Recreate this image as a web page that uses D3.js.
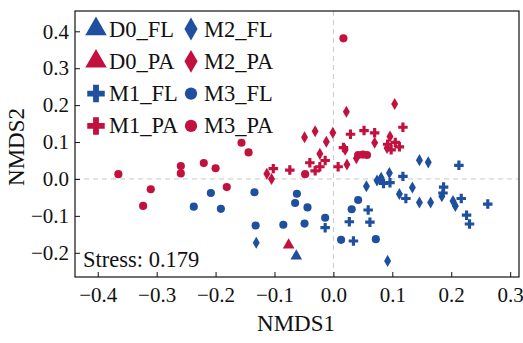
<!DOCTYPE html>
<html>
<head>
<meta charset="utf-8">
<script src="https://cdn.jsdelivr.net/npm/d3@7"></script>
<style>
  body { margin: 0; background: #fff; }
  svg text { font-family: "Liberation Serif", "Times New Roman", Times, serif; fill: #111; }
</style>
</head>
<body>
<div id="chart"></div>
<script>
// NMDS ordination scores, [NMDS1, NMDS2] per sample
var D0_FL = [[-0.063, -0.209]];
var D0_PA = [[-0.076, -0.179]];
var M1_FL = [[-0.014, -0.132], [0.027, -0.116], [0.062, -0.117], [0.034, -0.168], [0.059, -0.084],
             [0.085, -0.012], [0.096, -0.010], [0.118, 0.007], [0.123, -0.053], [0.187, -0.022],
             [0.186, -0.038], [0.213, 0.037], [0.217, -0.053], [0.226, -0.098], [0.231, -0.122],
             [0.262, -0.068]];
var M1_PA = [[0.029, 0.121], [0.052, 0.131], [0.070, 0.125], [0.118, 0.140], [0.017, 0.085],
             [0.092, 0.094], [0.105, 0.099], [0.098, 0.079], [-0.040, 0.044], [-0.014, 0.050],
             [-0.023, 0.033], [-0.031, 0.022], [0.008, 0.033], [-0.074, 0.024], [-0.102, 0.028],
             [0.112, 0.087]];
var M2_FL = [[-0.131, -0.173], [0.092, -0.222], [0.056, -0.020], [0.074, -0.004], [0.081, 0.003],
             [0.095, 0.016], [0.112, -0.041], [0.134, -0.023], [0.146, 0.051], [0.161, 0.045],
             [0.146, -0.064], [0.165, -0.064], [0.184, -0.047], [0.207, -0.073], [0.203, -0.060]];
var M2_PA = [[0.022, 0.182], [0.104, 0.203], [-0.049, 0.113], [-0.031, 0.129], [-0.001, 0.125],
             [-0.012, 0.101], [0.020, 0.079], [0.070, 0.098], [0.096, 0.115], [0.023, 0.039],
             [0.039, 0.056], [-0.113, 0.014], [-0.105, 0.000], [-0.023, 0.068], [0.091, 0.084]];
var M3_FL = [[-0.237, -0.075], [-0.208, -0.038], [-0.191, -0.081], [-0.134, -0.036], [-0.132, -0.126],
             [-0.085, -0.124], [-0.062, -0.040], [-0.065, -0.065], [-0.044, -0.077], [-0.049, -0.121],
             [-0.014, -0.105], [0.013, -0.165], [0.072, -0.163], [0.042, -0.057], [0.031, -0.082]];
var M3_PA = [[0.017, 0.381], [-0.365, 0.013], [-0.310, -0.028], [-0.323, -0.073], [-0.259, 0.035],
             [-0.259, 0.015], [-0.220, 0.043], [-0.200, 0.029], [-0.181, -0.022], [-0.156, 0.098],
             [-0.144, 0.072], [-0.048, 0.013], [0.042, 0.065], [0.050, 0.066], [0.057, 0.065]];

var xTicks = [-0.4, -0.3, -0.2, -0.1, 0.0, 0.1, 0.2, 0.3];
var yTicks = [-0.2, -0.1, 0.0, 0.1, 0.2, 0.3, 0.4];
var stressText = "Stress: 0.179";

var blue = "#1f4f9f", red = "#c3113f";

// draw order: FL below PA
var groups = [
    {name: "D0_FL", data: D0_FL, shape: d3.symbolTriangle, size: 59, lsize: 200, color: blue},
    {name: "M2_FL", data: M2_FL, shape: d3.symbolDiamond, size: 42, lsize: 150, color: blue},
    {name: "D0_PA", data: D0_PA, shape: d3.symbolTriangle, size: 59, lsize: 200, color: red},
    {name: "M2_PA", data: M2_PA, shape: d3.symbolDiamond, size: 42, lsize: 150, color: red},
    {name: "M1_FL", data: M1_FL, shape: d3.symbolCross, size: 50, lsize: 170, color: blue},
    {name: "M3_FL", data: M3_FL, shape: d3.symbolCircle, size: 52, lsize: 118, color: blue},
    {name: "M1_PA", data: M1_PA, shape: d3.symbolCross, size: 50, lsize: 170, color: red},
    {name: "M3_PA", data: M3_PA, shape: d3.symbolCircle, size: 52, lsize: 118, color: red}
];

var W = 523, H = 343;
var margin = {top: 11, right: 4, bottom: 66, left: 75},
    width = W - margin.left - margin.right,
    height = H - margin.top - margin.bottom;

var svg = d3.select("#chart").append("svg")
    .attr("width", W)
    .attr("height", H);

var g = svg.append("g")
    .attr("transform", "translate(" + margin.left + "," + margin.top + ")");

var x = d3.scaleLinear().domain([-0.4386, 0.315]).range([0, width]);
var y = d3.scaleLinear().domain([-0.2656, 0.455]).range([height, 0]);

// zero reference lines
g.append("line")
    .attr("x1", x(0)).attr("x2", x(0))
    .attr("y1", 0).attr("y2", height)
    .attr("stroke", "#c8c8c8").attr("stroke-dasharray", "5,4");
g.append("line")
    .attr("x1", 0).attr("x2", width)
    .attr("y1", y(0)).attr("y2", y(0))
    .attr("stroke", "#c8c8c8").attr("stroke-dasharray", "5,4");

// axes, ticks pointing inward
var xAxis = g.append("g")
    .attr("transform", "translate(0," + height + ")")
    .call(d3.axisBottom(x).tickValues(xTicks).tickFormat(d3.format(".1f"))
        .tickSizeInner(-5).tickSizeOuter(0).tickPadding(10));
var yAxis = g.append("g")
    .call(d3.axisLeft(y).tickValues(yTicks).tickFormat(d3.format(".1f"))
        .tickSizeInner(-5).tickSizeOuter(0).tickPadding(6));

[xAxis, yAxis].forEach(function(a) {
    a.attr("font-family", null).attr("font-size", null);
    a.select(".domain").remove();
    a.selectAll(".tick line").attr("stroke", "#111");
    a.selectAll(".tick text")
        .style("font-size", "21px")
        .attr("fill", "#111");
});

// points
groups.forEach(function(grp) {
    g.append("g").selectAll("path")
        .data(grp.data)
        .enter().append("path")
        .attr("transform", function(d) { return "translate(" + x(d[0]) + "," + y(d[1]) + ")"; })
        .attr("d", d3.symbol().type(grp.shape).size(grp.size))
        .attr("fill", grp.color);
});

// legend, two columns
var legendOrder = ["D0_FL", "M2_FL", "D0_PA", "M2_PA", "M1_FL", "M3_FL", "M1_PA", "M3_PA"];
var legend = g.append("g");
legendOrder.forEach(function(name, i) {
    var grp = groups.filter(function(d) { return d.name == name; })[0];
    var col = i % 2, row = Math.floor(i / 2);
    var lx = col == 0 ? 21 : 116,
        ly = 18 + row * 32.3;
    var item = legend.append("g").attr("transform", "translate(" + lx + "," + ly + ")");
    item.append("path")
        .attr("d", d3.symbol().type(grp.shape).size(grp.lsize))
        .attr("fill", grp.color);
    item.append("text")
        .attr("x", 13)
        .attr("y", 7.5)
        .style("font-size", "22.5px")
        .text(grp.name);
});

g.append("text")
    .attr("x", 8)
    .attr("y", height - 10)
    .style("font-size", "22.5px")
    .text(stressText);

// frame
g.append("rect")
    .attr("width", width)
    .attr("height", height)
    .attr("fill", "none")
    .attr("stroke", "#111")
    .attr("stroke-width", 1.2);

// axis titles
svg.append("text")
    .attr("x", margin.left + width / 2 - 1)
    .attr("y", 331)
    .attr("text-anchor", "middle")
    .style("font-size", "23px")
    .text("NMDS1");
svg.append("text")
    .attr("transform", "translate(24," + (margin.top + height / 2 + 3) + ") rotate(-90)")
    .attr("text-anchor", "middle")
    .style("font-size", "23px")
    .text("NMDS2");
</script>
</body>
</html>
